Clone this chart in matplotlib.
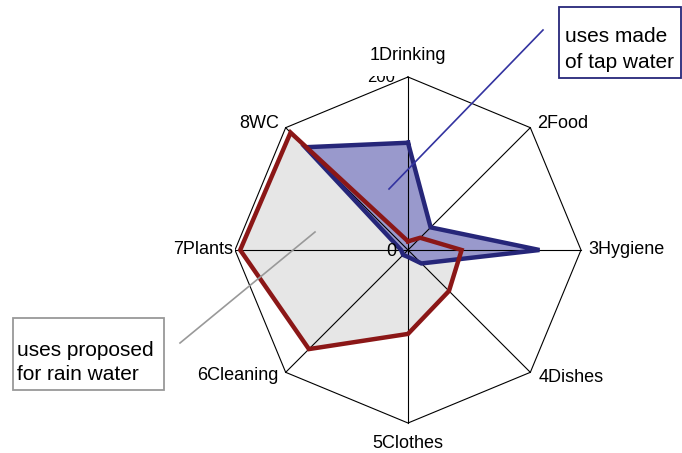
import numpy as np
import matplotlib.pyplot as plt

plt.rcParams['font.family'] = ['Liberation Sans', 'DejaVu Sans']

# data (scale 0..200)
categories = ['1Drinking', '2Food', '3Hygiene', '4Dishes',
              '5Clothes', '6Cleaning', '7Plants', '8WC']
tap_water = [124, 37, 152, 22, 8, 8, 8, 168]
rain_water = [10, 20, 62, 67, 97, 162, 194, 192]
r_max = 200

# geometry in pixel space
cx, cy, R = 408, 250, 173
n = len(categories)
theta = np.arange(n) * 2 * np.pi / n


def to_xy(vals):
    r = np.asarray(vals, float) / r_max * R
    x = cx + r * np.sin(theta)
    y = cy - r * np.cos(theta)
    return np.append(x, x[0]), np.append(y, y[0])


fig = plt.figure(figsize=(6.82, 4.53), dpi=100)
ax = fig.add_axes([0, 0, 1, 1])
ax.set_xlim(0, 682)
ax.set_ylim(453, 0)
ax.axis('off')

# fills
rx, ry = to_xy(rain_water)
tx, ty = to_xy(tap_water)
ax.fill(rx, ry, color='#E6E6E6', zorder=1)
ax.fill(tx, ty, color='#9999CC', zorder=2)

# grid: outer octagon + spokes
ox, oy = to_xy([r_max] * n)
ax.plot(ox, oy, color='black', lw=0.8, zorder=3)
for i in range(n):
    ax.plot([cx, ox[i]], [cy, oy[i]], color='black', lw=0.8, zorder=3)

# series outlines
ax.plot(tx, ty, color='#262679', lw=3.2, solid_joinstyle='miter', zorder=4)
ax.plot(rx, ry, color='#8B1717', lw=3.2, solid_joinstyle='miter', zorder=5)

# axis value labels ('200' is mostly hidden behind the top category label)
ax.text(381, 77, '200', fontsize=12, ha='center', va='center', zorder=6)
ax.add_patch(plt.Rectangle((362, 62), 40, 14, facecolor='white',
                           edgecolor='none', zorder=6.5))
ax.text(391, 251, '0', fontsize=13, ha='center', va='center', zorder=6)

# category labels
lab_pos = [(408, 55, 'center'), (537, 124, 'left'), (588, 250, 'left'),
           (539, 377, 'left'), (408, 443, 'center'), (278, 376, 'right'),
           (233, 250, 'right'), (279, 124, 'right')]
for name, (x, y, ha) in zip(categories, lab_pos):
    ax.text(x, y, name, fontsize=13, ha=ha, va='center', zorder=7,
            bbox=dict(facecolor='white', edgecolor='none', pad=1.5))

# callouts
ax.plot([543, 389], [30, 189], color='#3333A0', lw=1.2, zorder=6)
ax.add_patch(plt.Rectangle((559, 7), 122, 71, facecolor='white',
                           edgecolor='#262679', lw=1.3, zorder=8))
ax.text(565, 37, 'uses made', fontsize=15, va='center', zorder=9)
ax.text(565, 63, 'of tap water', fontsize=15, va='center', zorder=9)

ax.plot([180, 315], [343, 232], color='#999999', lw=1.2, zorder=6)
ax.add_patch(plt.Rectangle((13, 318), 151, 72, facecolor='white',
                           edgecolor='#999999', lw=1.3, zorder=8))
ax.text(17, 350, 'uses proposed', fontsize=15, va='center', zorder=9)
ax.text(17, 374, 'for rain water', fontsize=15, va='center', zorder=9)

fig.savefig('out.png', dpi=100)
